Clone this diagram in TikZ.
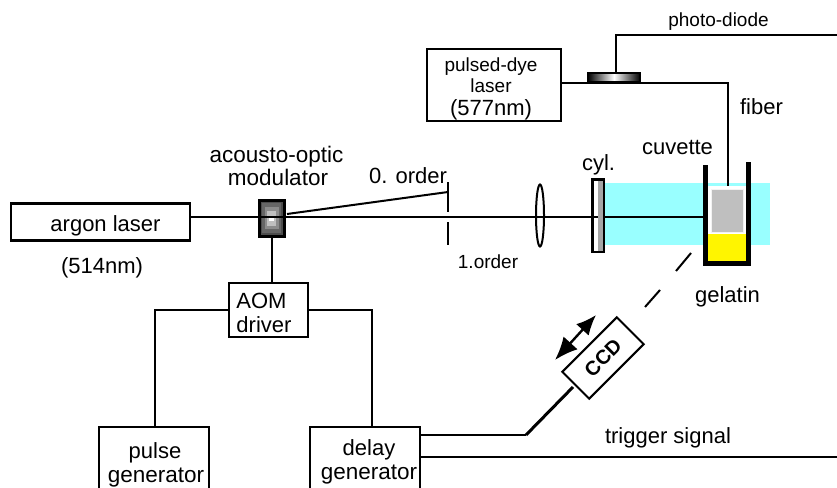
\documentclass[tikz,border=0pt]{standalone}
\usepackage{fontspec}
\setmainfont{Liberation Sans}
\usetikzlibrary{arrows.meta}
\tikzset{
    box/.style={draw,line width=2.3pt,inner sep=0pt},
    txt/.style={inner sep=0pt,anchor=base,font=\fontsize{22}{24}\selectfont},
    big/.style={inner sep=0pt,anchor=base,font=\fontsize{22.5}{24}\selectfont},
    small/.style={inner sep=0pt,anchor=base,font=\fontsize{19}{24}\selectfont},
    wire/.style={line width=2pt},
    wall/.style={line width=5pt}
}
\definecolor{beamcyan}{HTML}{99FFFF}
\definecolor{gelyellow}{HTML}{FFF500}
\begin{document}
\begin{tikzpicture}[x=1pt,y=-1pt]
        \useasboundingbox (0,0) rectangle (837,487);
        \clip (0,0) rectangle (837,487);

        \coordinate (S) at (705,216.5);
        \coordinate (P) at (837,35);
        \coordinate (Q) at (616,35);
        \coordinate (R) at (728,83);
        \coordinate (T) at (728,186);
        \coordinate (L) at (155,310);
        \coordinate (M) at (372,310);
        \coordinate (K) at (526,435);
        \coordinate (U) at (837,457);
        \coordinate (V) at (287,214);
        \coordinate (W) at (448,192);

        % laser light and cuvette
        \fill[beamcyan] (604,183) rectangle (770,245);
        \fill[white] (708,186) rectangle (746,234);
        \fill[gray!50,draw=white!90!gray] (711,189) rectangle (743,232);
        \fill[gelyellow] (708,234) rectangle (746,261);
        \draw[wall] (705.5,165) -- (705.5,266);
        \draw[wall] (748.5,162) -- (748.5,266);
        \draw[line width=5pt] (703,263.5) -- (751,263.5);

        % boxes
        \node[box,minimum width=179pt,minimum height=37pt] (argon) at (100.5,222) {};
        \node[box,minimum width=134pt,minimum height=72pt] (dye) at (494,85) {};
        \node[box,minimum width=79pt,minimum height=54pt] (driver) at (268.5,310) {};
        \node[box,minimum width=110pt,minimum height=90pt] (pulse) at (154,472) {};
        \node[box,minimum width=110pt,minimum height=90pt] (delay) at (365,472) {};
        \node[draw,line width=3pt,minimum width=25pt,minimum height=36pt,inner sep=0pt,fill=black!70] (aom) at (271.5,218) {};
        \foreach \w/\h/\g in {19/30/60,14/22/45,9/15/25,5/5/0}
            \fill[black!\g] (aom.center) ++(-\w/2,-\h/2) rectangle ++(\w,\h);
        \node[minimum width=52pt,minimum height=9pt,inner sep=0pt,draw,line width=1.5pt,left color=black,right color=black,middle color=white] (diode) at (614,77.5) {};

        % wires
        \draw[wire] (argon.east |- S) -- (S);
        \draw[wire] (V) -- (W);
        \draw[wire] (dye.east |- R) -- (R) -- (T);
        \draw[wire] (diode.north -| Q) -- (Q) -- (P);
        \draw[wire] (aom.south) -- (driver.north -| aom.south);
        \draw[wire] (driver.west |- L) -- (L) -- (L |- pulse.north);
        \draw[wire] (driver.east |- M) -- (M) -- (M |- delay.north);
        \draw[wire] (delay.east |- K) -- (K);
        \draw[wire] (delay.east |- U) -- (U);

        % aperture, lens and cylindrical lens
        \draw[line width=2.2pt] (448,182) -- (448,212);
        \draw[line width=2.2pt] (448,222) -- (448,245);
        \draw[line width=2pt] (540,215.5) ellipse (4 and 31);
        \fill[gray!70] (598,180) rectangle (603,251);
        \draw[line width=2.2pt] (592.5,179.5) rectangle (604,252);

        % ccd
        \node[draw,line width=2pt,rotate=45,minimum width=77pt,minimum height=38pt,inner sep=0pt,font=\bfseries\fontsize{20}{20}\selectfont] (ccd) at (603,358) {CCD};
        \coordinate (C) at (573,387);
        \draw[line width=3pt] (K) -- (C);
        \coordinate (N) at (691,253);
        \coordinate (O) at (676,271);
        \coordinate (X) at (660,290);
        \coordinate (Y) at (645,307);
        \draw[wire] (N) -- (O);
        \draw[wire] (X) -- (Y);
        \coordinate (D) at (555,360);
        \coordinate (E) at (596,315);
        \draw[line width=2.4pt,{Latex[length=23pt,width=19pt]}-{Latex[length=20pt,width=17pt]}] (D) -- (E);

        % labels
        \node[small] (lphoto) at (718.5,27) {photo-diode};
        \node[small] (ldye) at (491,71) {pulsed-dye};
        \node[small] (llaser) at (491,92) {laser};
        \node[txt] (lfive) at (491,115) {(577nm)};
        \node[txt] (lfiber) at (761.5,114) {fiber};
        \node[txt] (lcuv) at (677.5,154) {cuvette};
        \node[txt] (lcyl) at (598.5,170) {cyl.};
        \node[big] (lacousto) at (276.5,162) {acousto-optic};
        \node[big] (lmod) at (278,185) {modulator};
        \node[txt] (lzero) at (408,183) {0. order};
        \node[small] (lone) at (488,268) {1.order};
        \node[txt] (largon) at (105.5,231) {argon laser};
        \node[txt] (lwave) at (102,273) {(514nm)};
        \node[txt] (laom) at (261.5,308) {AOM};
        \node[txt] (ldriver) at (264,332) {driver};
        \node[txt] (lgel) at (727.5,302) {gelatin};
        \node[txt] (ltrig) at (668,443) {trigger signal};
        \node[txt] (lpulse) at (155,458) {pulse};
        \node[big] (lgenp) at (156,482) {generator};
        \node[txt] (ldelay) at (369,455) {delay};
        \node[big] (lgend) at (369,479) {generator};
    \end{tikzpicture}
\end{document}
